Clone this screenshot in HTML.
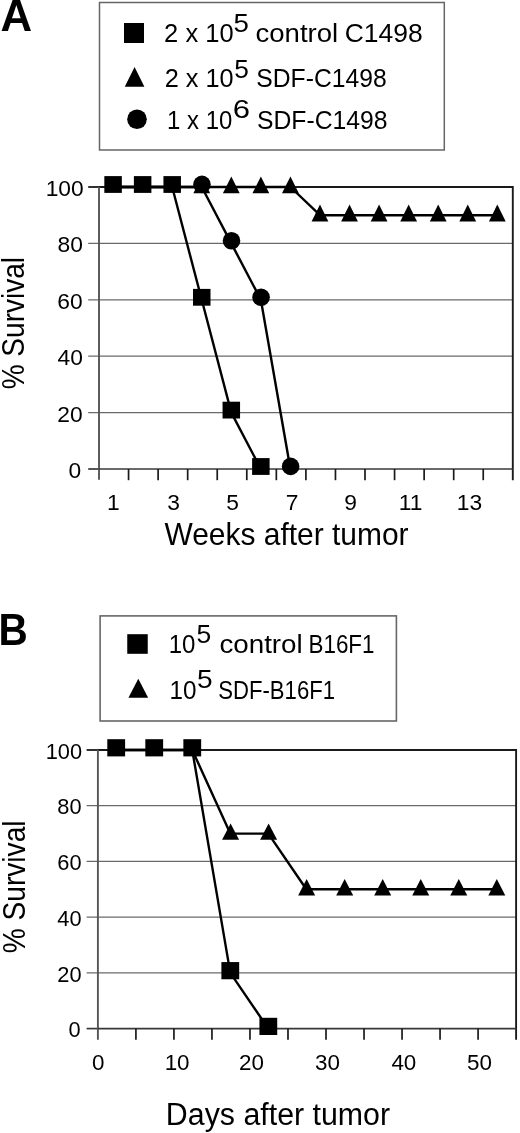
<!DOCTYPE html>
<html><head><meta charset="utf-8"><title>Survival curves</title>
<style>
html,body{margin:0;padding:0;background:#fff;}
body{width:520px;height:1133px;overflow:hidden;}
svg{display:block;will-change:transform;}
text{font-family:"Liberation Sans", sans-serif;}
</style></head><body>
<svg width="520" height="1133" viewBox="0 0 520 1133">
<rect width="520" height="1133" fill="#fff"/>
<text x="0" y="0" font-size="44.00" font-weight="bold" fill="#000" transform="translate(0.52,31.40) scale(0.9960,1)">A</text>
<rect x="99.5" y="2.5" width="344.8" height="147.5" fill="none" stroke="#666" stroke-width="1.5"/>
<rect x="124.00" y="23.00" width="20.00" height="20.00" fill="#000"/>
<path d="M134.60 67.10 L144.40 86.80 L124.80 86.80Z" fill="#000"/>
<circle cx="137.00" cy="119.30" r="9.80" fill="#000"/>
<text x="0" y="0" font-size="26.50" fill="#000" transform="translate(164.12,41.80) scale(0.9627,1)">2 x 10</text>
<text x="0" y="0" font-size="25.00" fill="#000" transform="translate(233.49,31.50) scale(1.1083,1)">5</text>
<text x="0" y="0" font-size="26.50" fill="#000" transform="translate(255.50,41.80) scale(1.0399,1)">control</text>
<text x="0" y="0" font-size="26.50" fill="#000" transform="translate(344.68,41.80) scale(0.9986,1)">C1498</text>
<text x="0" y="0" font-size="26.50" fill="#000" transform="translate(164.63,86.80) scale(0.9556,1)">2 x 10</text>
<text x="0" y="0" font-size="25.00" fill="#000" transform="translate(234.35,77.70) scale(1.0500,1)">5</text>
<text x="0" y="0" font-size="26.50" fill="#000" transform="translate(256.31,87.00) scale(0.9319,1)">SDF-C1498</text>
<text x="0" y="0" font-size="26.50" fill="#000" transform="translate(167.12,129.00) scale(0.9038,1)">1 x 10</text>
<text x="0" y="0" font-size="25.00" fill="#000" transform="translate(232.75,117.70) scale(1.2426,1)">6</text>
<text x="0" y="0" font-size="26.50" fill="#000" transform="translate(257.01,129.00) scale(0.9333,1)">SDF-C1498</text>
<line x1="88.20" y1="412.60" x2="512.80" y2="412.60" stroke="#6a6a6a" stroke-width="1.3"/>
<line x1="88.20" y1="356.20" x2="512.80" y2="356.20" stroke="#6a6a6a" stroke-width="1.3"/>
<line x1="88.20" y1="299.80" x2="512.80" y2="299.80" stroke="#6a6a6a" stroke-width="1.3"/>
<line x1="88.20" y1="243.40" x2="512.80" y2="243.40" stroke="#6a6a6a" stroke-width="1.3"/>
<line x1="88.20" y1="187.00" x2="99.00" y2="187.00" stroke="#1a1a1a" stroke-width="1.8"/>
<line x1="88.20" y1="469.00" x2="99.00" y2="469.00" stroke="#383838" stroke-width="1.7"/>
<line x1="99.00" y1="187.00" x2="512.80" y2="187.00" stroke="#1a1a1a" stroke-width="2.0"/>
<line x1="512.80" y1="186.00" x2="512.80" y2="480.20" stroke="#1a1a1a" stroke-width="1.9"/>
<line x1="99.00" y1="187.00" x2="99.00" y2="479.80" stroke="#555" stroke-width="1.9"/>
<line x1="99.00" y1="469.00" x2="512.80" y2="469.00" stroke="#383838" stroke-width="1.7"/>
<line x1="128.56" y1="469.00" x2="128.56" y2="480.20" stroke="#1a1a1a" stroke-width="1.7"/>
<line x1="158.11" y1="469.00" x2="158.11" y2="480.20" stroke="#1a1a1a" stroke-width="1.7"/>
<line x1="187.67" y1="469.00" x2="187.67" y2="480.20" stroke="#1a1a1a" stroke-width="1.7"/>
<line x1="217.23" y1="469.00" x2="217.23" y2="480.20" stroke="#1a1a1a" stroke-width="1.7"/>
<line x1="246.79" y1="469.00" x2="246.79" y2="480.20" stroke="#1a1a1a" stroke-width="1.7"/>
<line x1="276.34" y1="469.00" x2="276.34" y2="480.20" stroke="#1a1a1a" stroke-width="1.7"/>
<line x1="305.90" y1="469.00" x2="305.90" y2="480.20" stroke="#1a1a1a" stroke-width="1.7"/>
<line x1="335.46" y1="469.00" x2="335.46" y2="480.20" stroke="#1a1a1a" stroke-width="1.7"/>
<line x1="365.01" y1="469.00" x2="365.01" y2="480.20" stroke="#1a1a1a" stroke-width="1.7"/>
<line x1="394.57" y1="469.00" x2="394.57" y2="480.20" stroke="#1a1a1a" stroke-width="1.7"/>
<line x1="424.13" y1="469.00" x2="424.13" y2="480.20" stroke="#1a1a1a" stroke-width="1.7"/>
<line x1="453.69" y1="469.00" x2="453.69" y2="480.20" stroke="#1a1a1a" stroke-width="1.7"/>
<line x1="483.24" y1="469.00" x2="483.24" y2="480.20" stroke="#1a1a1a" stroke-width="1.7"/>
<text x="0" y="0" font-size="22.80" fill="#000" transform="translate(45.68,195.90) scale(1.0000,1)">100</text>
<text x="0" y="0" font-size="22.80" fill="#000" transform="translate(57.46,252.30) scale(1.0000,1)">80</text>
<text x="0" y="0" font-size="22.80" fill="#000" transform="translate(57.26,308.70) scale(1.0000,1)">60</text>
<text x="0" y="0" font-size="22.80" fill="#000" transform="translate(57.46,365.10) scale(1.0000,1)">40</text>
<text x="0" y="0" font-size="22.80" fill="#000" transform="translate(57.36,421.50) scale(1.0000,1)">20</text>
<text x="0" y="0" font-size="22.80" fill="#000" transform="translate(68.44,477.90) scale(1.0000,1)">0</text>
<text x="0" y="0" font-size="22.80" fill="#000" transform="translate(106.89,510.00) scale(1.0000,1)">1</text>
<text x="0" y="0" font-size="22.80" fill="#000" transform="translate(167.23,510.00) scale(1.0000,1)">3</text>
<text x="0" y="0" font-size="22.80" fill="#000" transform="translate(226.22,510.00) scale(1.0000,1)">5</text>
<text x="0" y="0" font-size="22.80" fill="#000" transform="translate(285.72,510.00) scale(1.0000,1)">7</text>
<text x="0" y="0" font-size="22.80" fill="#000" transform="translate(344.33,510.00) scale(1.0000,1)">9</text>
<text x="0" y="0" font-size="22.80" fill="#000" transform="translate(398.69,510.00) scale(1.0000,1)">11</text>
<text x="0" y="0" font-size="22.80" fill="#000" transform="translate(456.83,510.00) scale(1.0000,1)">13</text>
<text x="0" y="0" font-size="30.80" fill="#000" transform="translate(164.40,544.60) scale(0.9727,1)">Weeks after tumor</text>
<text x="0" y="0" font-size="30.50" fill="#000" transform="translate(24.40,389.34) rotate(-90) scale(0.9196,1)">% Survival</text>
<polyline points="113.08,187.00 142.64,187.00 172.19,187.00 201.75,187.00 231.31,187.00 260.86,187.00 290.42,187.00 319.98,215.20 349.54,215.20 379.09,215.20 408.65,215.20 438.21,215.20 467.76,215.20 497.32,215.20" fill="none" stroke="#000" stroke-width="2.4" stroke-linejoin="round"/>
<polyline points="113.08,187.00 142.64,187.00 172.19,187.00 201.75,187.00 231.31,243.40 260.86,299.80 290.42,469.00" fill="none" stroke="#000" stroke-width="2.4" stroke-linejoin="round"/>
<polyline points="113.08,187.00 142.64,187.00 172.19,187.00 201.75,299.80 231.31,412.60 260.86,469.00" fill="none" stroke="#000" stroke-width="2.4" stroke-linejoin="round"/>
<path d="M201.75 176.40 L210.15 193.30 L193.35 193.30Z" fill="#000"/>
<path d="M231.31 176.40 L239.71 193.30 L222.91 193.30Z" fill="#000"/>
<path d="M260.86 176.40 L269.26 193.30 L252.46 193.30Z" fill="#000"/>
<path d="M290.42 176.40 L298.82 193.30 L282.02 193.30Z" fill="#000"/>
<path d="M319.98 204.60 L328.38 221.50 L311.58 221.50Z" fill="#000"/>
<path d="M349.54 204.60 L357.94 221.50 L341.14 221.50Z" fill="#000"/>
<path d="M379.09 204.60 L387.49 221.50 L370.69 221.50Z" fill="#000"/>
<path d="M408.65 204.60 L417.05 221.50 L400.25 221.50Z" fill="#000"/>
<path d="M438.21 204.60 L446.61 221.50 L429.81 221.50Z" fill="#000"/>
<path d="M467.76 204.60 L476.16 221.50 L459.36 221.50Z" fill="#000"/>
<path d="M497.32 204.60 L505.72 221.50 L488.92 221.50Z" fill="#000"/>
<circle cx="201.95" cy="184.40" r="8.80" fill="#000"/>
<circle cx="231.51" cy="240.80" r="8.80" fill="#000"/>
<circle cx="261.06" cy="297.20" r="8.80" fill="#000"/>
<circle cx="290.62" cy="466.40" r="8.80" fill="#000"/>
<rect x="104.33" y="176.10" width="17.50" height="16.80" fill="#000"/>
<rect x="133.89" y="176.10" width="17.50" height="16.80" fill="#000"/>
<rect x="163.44" y="176.10" width="17.50" height="16.80" fill="#000"/>
<rect x="193.00" y="288.90" width="17.50" height="16.80" fill="#000"/>
<rect x="222.56" y="401.70" width="17.50" height="16.80" fill="#000"/>
<rect x="252.11" y="458.10" width="17.50" height="16.80" fill="#000"/>
<text x="0" y="0" font-size="43.50" font-weight="bold" fill="#000" transform="translate(-1.53,645.20) scale(0.9307,1)">B</text>
<rect x="100.1" y="615.9" width="296.3" height="105.1" fill="none" stroke="#666" stroke-width="1.6"/>
<rect x="127.25" y="634.20" width="20.50" height="19.60" fill="#000"/>
<path d="M138.30 678.80 L148.15 697.80 L128.45 697.80Z" fill="#000"/>
<text x="0" y="0" font-size="26.50" fill="#000" transform="translate(168.72,653.30) scale(0.9076,1)">10</text>
<text x="0" y="0" font-size="25.00" fill="#000" transform="translate(196.54,642.70) scale(1.0583,1)">5</text>
<text x="0" y="0" font-size="26.50" fill="#000" transform="translate(219.39,653.30) scale(1.0477,1)">control</text>
<text x="0" y="0" font-size="26.50" fill="#000" transform="translate(308.51,653.30) scale(0.8457,1)">B16F1</text>
<text x="0" y="0" font-size="26.50" fill="#000" transform="translate(169.50,698.50) scale(0.9151,1)">10</text>
<text x="0" y="0" font-size="25.00" fill="#000" transform="translate(196.88,687.70) scale(1.1250,1)">5</text>
<text x="0" y="0" font-size="26.50" fill="#000" transform="translate(218.32,698.70) scale(0.8342,1)">SDF-B16F1</text>
<line x1="86.60" y1="972.88" x2="516.10" y2="972.88" stroke="#6a6a6a" stroke-width="1.3"/>
<line x1="86.60" y1="917.16" x2="516.10" y2="917.16" stroke="#6a6a6a" stroke-width="1.3"/>
<line x1="86.60" y1="861.44" x2="516.10" y2="861.44" stroke="#6a6a6a" stroke-width="1.3"/>
<line x1="86.60" y1="805.72" x2="516.10" y2="805.72" stroke="#6a6a6a" stroke-width="1.3"/>
<line x1="86.60" y1="750.00" x2="97.90" y2="750.00" stroke="#1a1a1a" stroke-width="1.8"/>
<line x1="86.60" y1="1028.60" x2="97.90" y2="1028.60" stroke="#383838" stroke-width="1.7"/>
<line x1="97.90" y1="750.00" x2="516.10" y2="750.00" stroke="#1a1a1a" stroke-width="2.0"/>
<line x1="516.10" y1="749.00" x2="516.10" y2="1039.80" stroke="#1a1a1a" stroke-width="1.9"/>
<line x1="97.90" y1="750.00" x2="97.90" y2="1039.80" stroke="#555" stroke-width="1.9"/>
<line x1="97.90" y1="1028.60" x2="516.10" y2="1028.60" stroke="#383838" stroke-width="1.7"/>
<line x1="135.92" y1="1028.60" x2="135.92" y2="1039.80" stroke="#1a1a1a" stroke-width="1.7"/>
<line x1="173.94" y1="1028.60" x2="173.94" y2="1039.80" stroke="#1a1a1a" stroke-width="1.7"/>
<line x1="211.95" y1="1028.60" x2="211.95" y2="1039.80" stroke="#1a1a1a" stroke-width="1.7"/>
<line x1="249.97" y1="1028.60" x2="249.97" y2="1039.80" stroke="#1a1a1a" stroke-width="1.7"/>
<line x1="287.99" y1="1028.60" x2="287.99" y2="1039.80" stroke="#1a1a1a" stroke-width="1.7"/>
<line x1="326.01" y1="1028.60" x2="326.01" y2="1039.80" stroke="#1a1a1a" stroke-width="1.7"/>
<line x1="364.03" y1="1028.60" x2="364.03" y2="1039.80" stroke="#1a1a1a" stroke-width="1.7"/>
<line x1="402.05" y1="1028.60" x2="402.05" y2="1039.80" stroke="#1a1a1a" stroke-width="1.7"/>
<line x1="440.06" y1="1028.60" x2="440.06" y2="1039.80" stroke="#1a1a1a" stroke-width="1.7"/>
<line x1="478.08" y1="1028.60" x2="478.08" y2="1039.80" stroke="#1a1a1a" stroke-width="1.7"/>
<text x="0" y="0" font-size="21.80" fill="#000" transform="translate(45.72,758.70) scale(1.0000,1)">100</text>
<text x="0" y="0" font-size="21.80" fill="#000" transform="translate(57.34,814.42) scale(1.0000,1)">80</text>
<text x="0" y="0" font-size="21.80" fill="#000" transform="translate(57.34,870.14) scale(1.0000,1)">60</text>
<text x="0" y="0" font-size="21.80" fill="#000" transform="translate(57.34,925.86) scale(1.0000,1)">40</text>
<text x="0" y="0" font-size="21.80" fill="#000" transform="translate(57.34,981.58) scale(1.0000,1)">20</text>
<text x="0" y="0" font-size="21.80" fill="#000" transform="translate(68.46,1037.30) scale(1.0000,1)">0</text>
<text x="0" y="0" font-size="22.40" fill="#000" transform="translate(92.04,1069.90) scale(1.0000,1)">0</text>
<text x="0" y="0" font-size="22.40" fill="#000" transform="translate(164.66,1069.90) scale(1.0000,1)">10</text>
<text x="0" y="0" font-size="22.40" fill="#000" transform="translate(238.99,1069.90) scale(1.0000,1)">20</text>
<text x="0" y="0" font-size="22.40" fill="#000" transform="translate(315.11,1069.90) scale(1.0000,1)">30</text>
<text x="0" y="0" font-size="22.40" fill="#000" transform="translate(391.42,1069.90) scale(1.0000,1)">40</text>
<text x="0" y="0" font-size="22.40" fill="#000" transform="translate(467.10,1069.90) scale(1.0000,1)">50</text>
<text x="0" y="0" font-size="30.80" fill="#000" transform="translate(165.87,1124.60) scale(0.9854,1)">Days after tumor</text>
<text x="0" y="0" font-size="30.50" fill="#000" transform="translate(25.00,953.24) rotate(-90) scale(0.9217,1)">% Survival</text>
<polyline points="116.20,750.00 154.23,750.00 192.26,750.00 230.29,833.58 268.32,833.58 306.35,889.30 344.38,889.30 382.41,889.30 420.44,889.30 458.47,889.30 496.50,889.30" fill="none" stroke="#000" stroke-width="2.4" stroke-linejoin="round"/>
<polyline points="116.20,750.00 154.23,750.00 192.26,750.00 230.29,972.88 268.32,1028.60" fill="none" stroke="#000" stroke-width="2.4" stroke-linejoin="round"/>
<path d="M230.59 823.38 L239.09 839.78 L222.09 839.78Z" fill="#000"/>
<path d="M268.62 823.38 L277.12 839.78 L260.12 839.78Z" fill="#000"/>
<path d="M306.65 879.10 L315.15 895.50 L298.15 895.50Z" fill="#000"/>
<path d="M344.68 879.10 L353.18 895.50 L336.18 895.50Z" fill="#000"/>
<path d="M382.71 879.10 L391.21 895.50 L374.21 895.50Z" fill="#000"/>
<path d="M420.74 879.10 L429.24 895.50 L412.24 895.50Z" fill="#000"/>
<path d="M458.77 879.10 L467.27 895.50 L450.27 895.50Z" fill="#000"/>
<path d="M496.80 879.10 L505.30 895.50 L488.30 895.50Z" fill="#000"/>
<rect x="107.30" y="739.20" width="17.80" height="17.20" fill="#000"/>
<rect x="145.33" y="739.20" width="17.80" height="17.20" fill="#000"/>
<rect x="183.36" y="739.20" width="17.80" height="17.20" fill="#000"/>
<rect x="221.39" y="962.08" width="17.80" height="17.20" fill="#000"/>
<rect x="259.42" y="1017.80" width="17.80" height="17.20" fill="#000"/>
</svg>
</body></html>
